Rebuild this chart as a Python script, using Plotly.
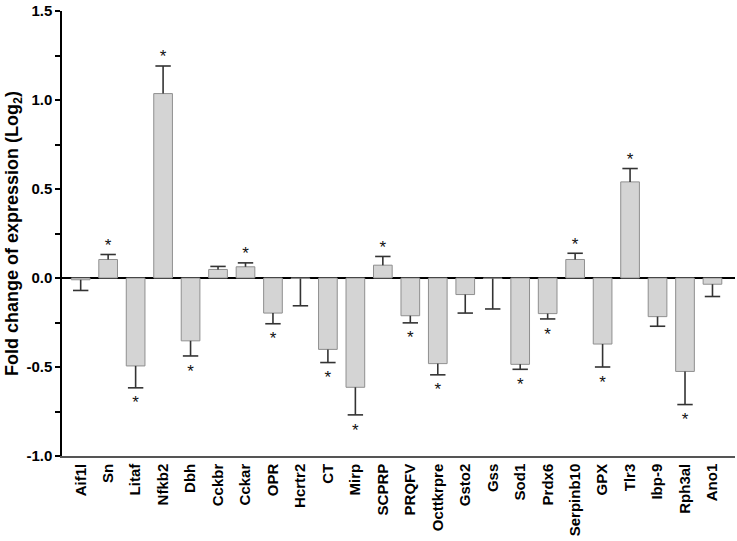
import plotly.graph_objects as go

genes = ["Aif1l", "Sn", "Litaf", "Nfkb2", "Dbh", "Cckbr", "Cckar", "OPR", "Hcrtr2",
         "CT", "Mirp", "SCPRP", "PRQFV", "Octtkrpre", "Gsto2", "Gss", "Sod1", "Prdx6",
         "Serpinb10", "GPX", "Tlr3", "Ibp-9", "Rph3al", "Ano1"]
fold_change = [-0.010, 0.104, -0.494, 1.036, -0.353, 0.048, 0.063, -0.197, -0.003,
               -0.401, -0.614, 0.072, -0.212, -0.481, -0.093, -0.003, -0.485, -0.200,
               0.104, -0.371, 0.540, -0.217, -0.525, -0.035]
sem = [0.060, 0.028, 0.123, 0.155, 0.085, 0.017, 0.022, 0.060, 0.153,
       0.074, 0.155, 0.049, 0.040, 0.063, 0.104, 0.171, 0.028, 0.030,
       0.035, 0.129, 0.075, 0.054, 0.186, 0.069]
significant = [False, True, True, True, True, False, True, True, False,
               True, True, True, True, True, False, False, True, True,
               True, True, True, False, True, False]
y_tick_vals = [-1.0, -0.5, 0.0, 0.5, 1.0, 1.5]
y_tick_text = ["-1.0", "-0.5", "0.0", "0.5", "1.0", "1.5"]

FONT = "Liberation Sans, Arial, sans-serif"
ERR_COLOR = "#333333"

err_plus = [e if v >= 0 else 0 for v, e in zip(fold_change, sem)]
err_minus = [e if v < 0 else 0 for v, e in zip(fold_change, sem)]
tips = [v + e if v >= 0 else v - e for v, e in zip(fold_change, sem)]

fig = go.Figure()
fig.add_trace(go.Bar(
    x=genes, y=fold_change,
    marker=dict(color="#d4d4d4", line=dict(color="#8f8f8f", width=1)),
    error_y=dict(type="data", symmetric=False, array=err_plus, arrayminus=err_minus,
                 color=ERR_COLOR, thickness=1.6, width=0),
    showlegend=False, hoverinfo="skip",
))
# error bar caps
fig.add_trace(go.Scatter(
    x=genes, y=tips, mode="markers",
    marker=dict(symbol="line-ew", size=11, line=dict(color=ERR_COLOR, width=1.6)),
    showlegend=False, hoverinfo="skip",
))
# significance asterisks
sig_x = [g for g, s in zip(genes, significant) if s]
sig_y = [t + 0.045 if v >= 0 else t - 0.092
         for t, v, s in zip(tips, fold_change, significant) if s]
fig.add_trace(go.Scatter(
    x=sig_x, y=sig_y, mode="text", text=["*"] * len(sig_x),
    textposition="middle center",
    textfont=dict(family=FONT, size=17, color="#111111"),
    showlegend=False, hoverinfo="skip",
))

fig.update_layout(
    width=737, height=541,
    margin=dict(l=62, r=2, t=8, b=85),
    paper_bgcolor="white", plot_bgcolor="white",
    bargap=0.32,
    font=dict(family=FONT, color="black"),
    xaxis=dict(
        range=[-0.68, 23.82],
        showline=True, linecolor="#555555", linewidth=1.5,
        ticks="", tickangle=-90,
        tickfont=dict(family=FONT, size=15, color="black", weight="bold"),
        showgrid=False, zeroline=False,
        ticklabeloverflow="allow",
    ),
    yaxis=dict(
        range=[-1.0, 1.5],
        tickvals=y_tick_vals, ticktext=y_tick_text,
        tickfont=dict(family=FONT, size=15, color="black", weight="bold"),
        ticks="outside", ticklen=5, tickwidth=1.5, tickcolor="black",
        minor=dict(dtick=0.25, ticks="outside", ticklen=5, tickwidth=1.5, tickcolor="black"),
        showline=True, linecolor="black", linewidth=1.5,
        zeroline=True, zerolinecolor="black", zerolinewidth=1.5,
        showgrid=False,
        ticklabeloverflow="allow",
        title=dict(text="Fold change of expression (Log<sub>2</sub>)",
                   font=dict(family=FONT, size=18, color="black", weight="bold"),
                   standoff=3),
    ),
)

fig.write_html("out.html", config={"displayModeBar": False},
               post_script="document.body.style.margin='0';document.body.style.overflow='hidden';")
